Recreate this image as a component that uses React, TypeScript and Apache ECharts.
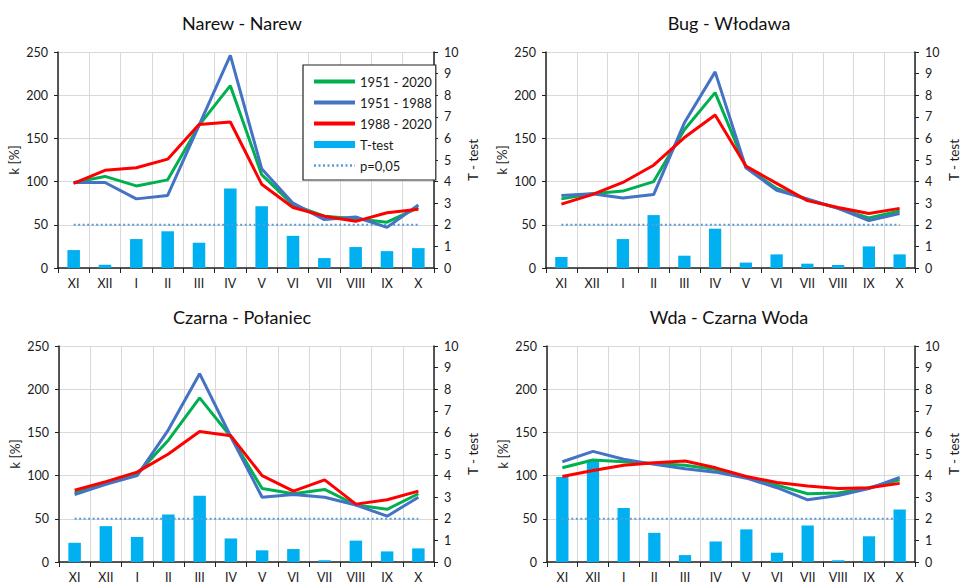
import React, { useEffect, useRef } from 'react';
import * as echarts from 'echarts';

const months = ['XI', 'XII', 'I', 'II', 'III', 'IV', 'V', 'VI', 'VII', 'VIII', 'IX', 'X'];
const titles = ['Narew - Narew', 'Bug - Włodawa', 'Czarna - Połaniec', 'Wda - Czarna Woda'];
const seriesNames = ['1951 - 2020', '1951 - 1988', '1988 - 2020', 'T-test', 'p=0,05'];
const leftTicks = { min: 0, max: 250, interval: 50 };
const rightTicks = { min: 0, max: 10, interval: 1 };
const pLevel = 2;

const narewFull = [99, 106, 95, 102, 165, 211, 108, 73, 60, 57, 53, 70];
const narewEarly = [99, 99, 80, 84, 165, 246, 115, 75, 56, 59, 47, 73];
const narewLate = [98, 113, 116, 126, 166, 169, 97, 70, 60, 54, 64, 68];
const narewT = [0.83, 0.15, 1.34, 1.7, 1.17, 3.68, 2.86, 1.49, 0.46, 0.97, 0.78, 0.92];

const bugFull = [80, 86, 89, 100, 160, 203, 117, 92, 79, 69, 58, 66];
const bugEarly = [84, 86, 81, 85, 168, 227, 116, 90, 80, 69, 55, 63];
const bugLate = [74, 85, 99, 119, 151, 177, 118, 98, 78, 70, 63, 69];
const bugT = [0.51, 0, 1.34, 2.45, 0.57, 1.82, 0.25, 0.63, 0.2, 0.14, 1.0, 0.63];

const czarnaFull = [80, 91, 102, 141, 190, 145, 85, 79, 84, 66, 61, 79];
const czarnaEarly = [78, 90, 100, 153, 218, 145, 75, 78, 75, 66, 53, 75];
const czarnaLate = [83, 93, 104, 125, 151, 146, 100, 82, 95, 67, 72, 82];
const czarnaT = [0.89, 1.66, 1.16, 2.2, 3.07, 1.09, 0.54, 0.6, 0.08, 0.99, 0.49, 0.63];

const wdaFull = [109, 118, 116, 114, 112, 107, 98, 89, 79, 80, 86, 95];
const wdaEarly = [116, 128, 119, 113, 108, 104, 97, 86, 72, 77, 85, 98];
const wdaLate = [99, 106, 112, 115, 117, 109, 99, 92, 88, 85, 86, 91];
const wdaT = [3.93, 4.73, 2.5, 1.35, 0.32, 0.95, 1.51, 0.43, 1.69, 0.08, 1.19, 2.43];

const panels = [
  { full: narewFull, early: narewEarly, late: narewLate, t: narewT },
  { full: bugFull, early: bugEarly, late: bugLate, t: bugT },
  { full: czarnaFull, early: czarnaEarly, late: czarnaLate, t: czarnaT },
  { full: wdaFull, early: wdaEarly, late: wdaLate, t: wdaT },
];

const FONT = 'Lato, "Noto Sans", sans-serif';
const gridRects = [
  { left: 58, top: 52, width: 376, height: 216, tx: 242, ty: 23 },
  { left: 546, top: 52, width: 375, height: 216, tx: 729, ty: 23 },
  { left: 59, top: 346, width: 375, height: 216, tx: 242, ty: 317 },
  { left: 547, top: 346, width: 374, height: 216, tx: 729, ty: 317 },
];
const colors = { full: '#00b050', early: '#4472c4', late: '#ff0000', t: '#00b0f0', p: '#5b9bd5' };
const TXT = '#1a1a1a';

export default function App() {
  const ref = useRef<HTMLDivElement>(null);
  useEffect(() => {
    if (!ref.current) return;
    const chart = echarts.init(ref.current, undefined, { renderer: 'svg' });
    const grid: any[] = [];
    const xAxis: any[] = [];
    const yAxis: any[] = [];
    const series: any[] = [];
    const graphic: any[] = [];
    panels.forEach((p, i) => {
      const g = gridRects[i];
      grid.push({ left: g.left, top: g.top, width: g.width, height: g.height, containLabel: false });
      graphic.push({
        type: 'text', x: g.tx, y: g.ty,
        style: { text: titles[i], font: `18px ${FONT}`, fill: '#111', textAlign: 'center', textVerticalAlign: 'middle' },
      });
      xAxis.push({
        type: 'category', gridIndex: i, data: months, boundaryGap: true,
        axisLine: { lineStyle: { color: '#222', width: 1.5 } },
        axisTick: { show: true, length: 5, lineStyle: { color: '#222' } },
        axisLabel: { color: TXT, fontSize: 12.5, fontFamily: FONT, margin: 9, interval: 0 },
        splitLine: { show: true, lineStyle: { color: '#d9d9d9', width: 1 } },
      });
      yAxis.push({
        type: 'value', gridIndex: i, position: 'left', ...leftTicks,
        name: 'k [%]', nameLocation: 'middle', nameGap: 37,
        nameTextStyle: { color: TXT, fontSize: 13.5, fontFamily: FONT },
        axisLine: { show: true, lineStyle: { color: '#222', width: 1.5 } },
        axisTick: { show: true, length: 4, lineStyle: { color: '#222' } },
        axisLabel: { color: TXT, fontSize: 12.5, fontFamily: FONT, margin: 10 },
        splitLine: { show: true, lineStyle: { color: '#d9d9d9', width: 1 } },
      });
      yAxis.push({
        type: 'value', gridIndex: i, position: 'right', ...rightTicks,
        name: 'T - test', nameLocation: 'middle', nameGap: 32, nameRotate: 90,
        nameTextStyle: { color: TXT, fontSize: 13.5, fontFamily: FONT },
        axisLine: { show: true, lineStyle: { color: '#222', width: 1.5 } },
        axisTick: { show: true, length: 4, lineStyle: { color: '#222' } },
        axisLabel: { color: TXT, fontSize: 12.5, fontFamily: FONT, margin: 10 },
        splitLine: { show: false },
      });
      series.push({
        name: seriesNames[3], type: 'bar', xAxisIndex: i, yAxisIndex: i * 2 + 1,
        data: p.t, barWidth: '40%', itemStyle: { color: colors.t },
      });
      series.push({
        name: seriesNames[4], type: 'line', xAxisIndex: i, yAxisIndex: i * 2 + 1,
        data: months.map(() => pLevel), symbol: 'none',
        lineStyle: { color: colors.p, width: 2, type: [2, 2.5] }, itemStyle: { color: colors.p },
      });
      series.push({
        name: seriesNames[0], type: 'line', xAxisIndex: i, yAxisIndex: i * 2, data: p.full,
        symbol: 'none', lineStyle: { color: colors.full, width: 3 }, itemStyle: { color: colors.full },
      });
      series.push({
        name: seriesNames[1], type: 'line', xAxisIndex: i, yAxisIndex: i * 2, data: p.early,
        symbol: 'none', lineStyle: { color: colors.early, width: 3 }, itemStyle: { color: colors.early },
      });
      series.push({
        name: seriesNames[2], type: 'line', xAxisIndex: i, yAxisIndex: i * 2, data: p.late,
        symbol: 'none', lineStyle: { color: colors.late, width: 3 }, itemStyle: { color: colors.late },
      });
    });
    const hidden = { opacity: 0 };
    chart.setOption({
      animation: false,
      backgroundColor: '#fff',
      grid, xAxis, yAxis, series, graphic,
      legend: {
        orient: 'vertical', left: 303, top: 65,
        padding: [10, 4, 8, 9], itemGap: 8, itemWidth: 41, itemHeight: 7,
        backgroundColor: '#fff', borderColor: '#222', borderWidth: 1.2,
        textStyle: { color: TXT, fontSize: 13, fontFamily: FONT },
        data: [
          { name: seriesNames[0], itemStyle: hidden, lineStyle: { width: 4 } },
          { name: seriesNames[1], itemStyle: hidden, lineStyle: { width: 4 } },
          { name: seriesNames[2], itemStyle: hidden, lineStyle: { width: 4 } },
          { name: seriesNames[3], icon: 'rect' },
          { name: seriesNames[4], itemStyle: hidden, lineStyle: { width: 2.5, type: [2, 2.5] } },
        ],
      },
    });
    return () => chart.dispose();
  }, []);
  return <div ref={ref} style={{ position: 'fixed', left: 0, top: 0, width: 962, height: 585 }} />;
}
